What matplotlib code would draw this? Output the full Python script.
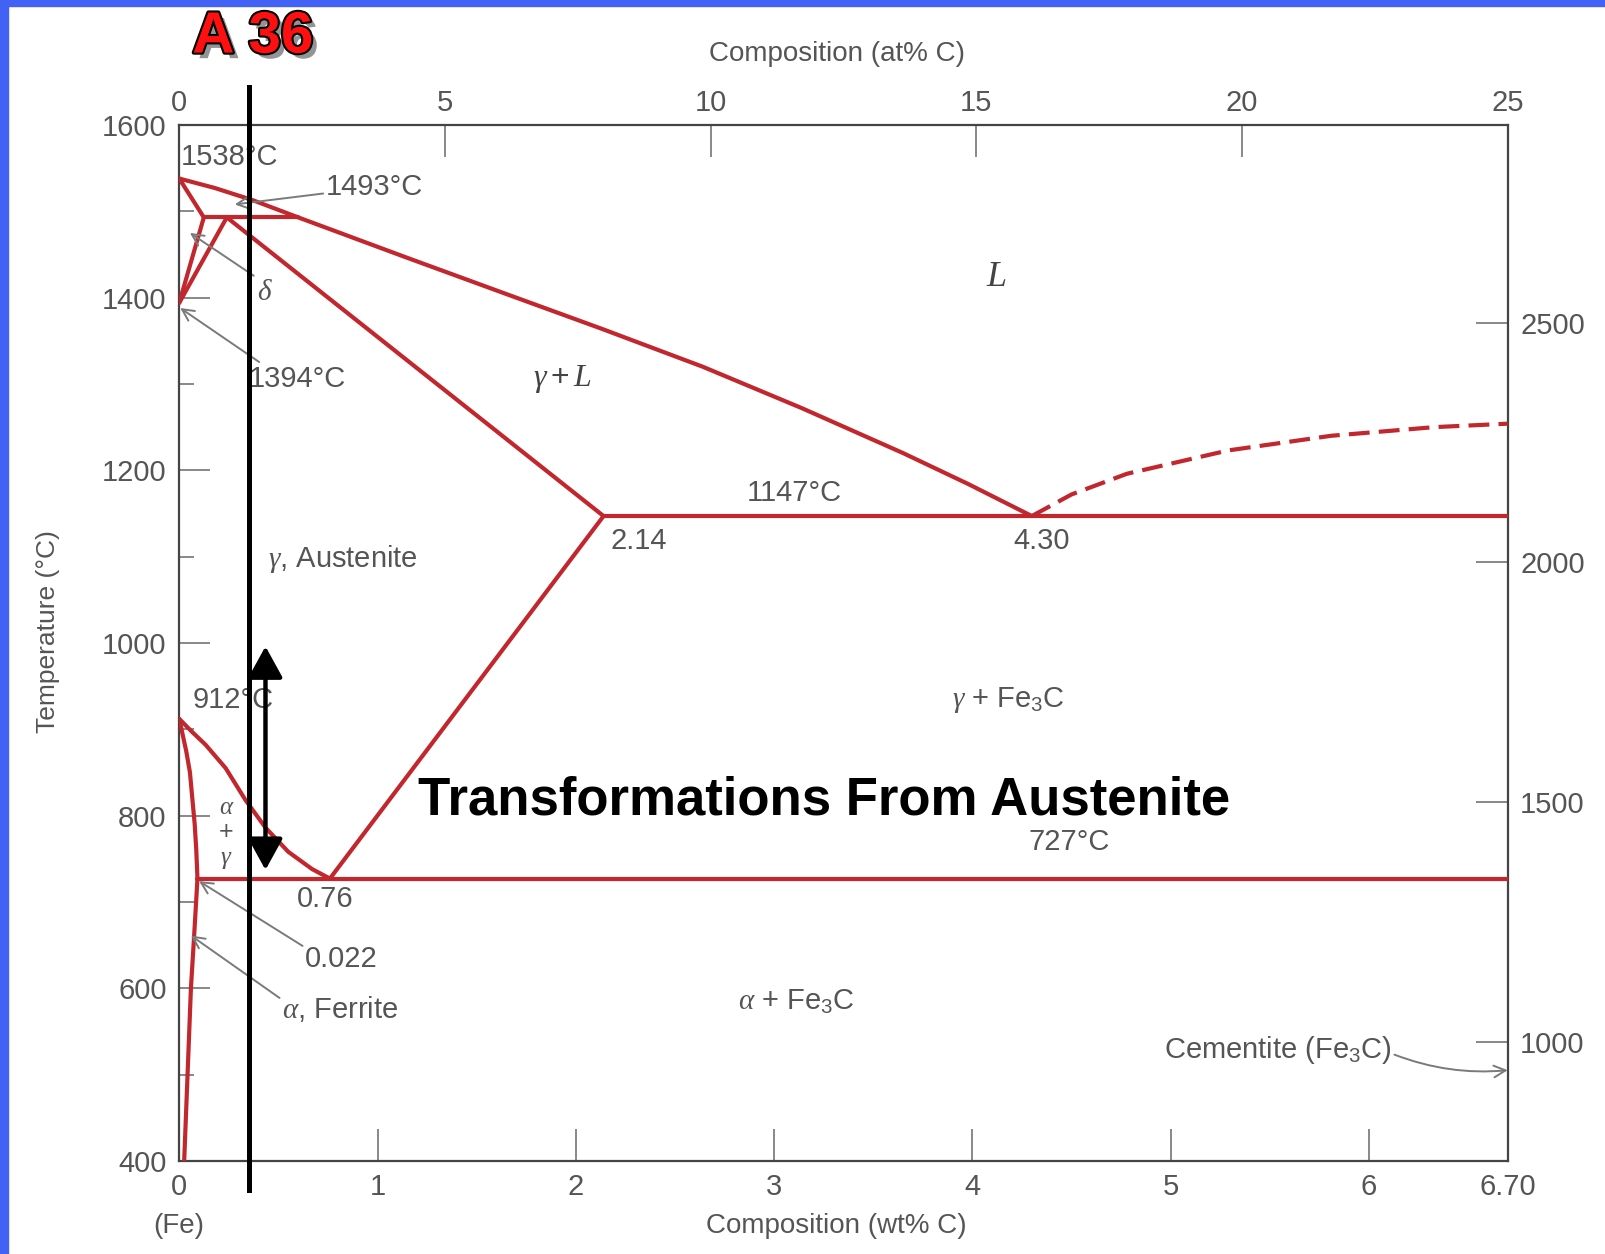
import matplotlib
matplotlib.use("Agg")
import matplotlib.pyplot as plt
import matplotlib.patheffects as pe
from matplotlib.patches import Rectangle

plt.rcParams['font.family'] = ['Liberation Sans', 'DejaVu Sans']
plt.rcParams['mathtext.fontset'] = 'custom'
plt.rcParams['mathtext.rm'] = 'Liberation Sans'
plt.rcParams['mathtext.it'] = 'Liberation Serif:italic'
plt.rcParams['mathtext.bf'] = 'Liberation Sans:bold'

# ---------------- data (wt% C, temperature °C) ----------------
liquidus_wt = [0.0, 0.18, 0.37, 0.60, 1.14, 1.64, 2.13, 2.64, 3.14, 3.65, 3.98, 4.30]
liquidus_T = [1538, 1527, 1513, 1493, 1447, 1405, 1364, 1320, 1272, 1220, 1184, 1147]
liq_dash_wt = [4.30, 4.50, 4.78, 5.29, 5.81, 6.33, 6.70]
liq_dash_T = [1147, 1172, 1196, 1223, 1240, 1250, 1254]
delta_sol_wt = [0.0, 0.124]
delta_sol_T = [1538, 1493]
peritectic_wt = [0.124, 0.60]
peritectic_T = [1493, 1493]
delta_low_wt = [0.124, 0.0]
delta_low_T = [1493, 1394]
gamma_up_wt = [0.24, 0.0]
gamma_up_T = [1493, 1394]
solidus_wt = [0.24, 2.14]
solidus_T = [1493, 1147]
eutectic_wt = [2.14, 6.70]
eutectic_T = [1147, 1147]
acm_wt = [2.14, 0.76]
acm_T = [1147, 727]
a3_wt = [0.0, 0.06, 0.133, 0.234, 0.334, 0.435, 0.55, 0.67, 0.76]
a3_T = [912, 898, 882, 855, 818, 786, 758, 738, 727]
ferrite_wt = [0.0, 0.035, 0.054, 0.066, 0.078, 0.086, 0.092]
ferrite_T = [912, 875, 850, 820, 790, 760, 727]
solvus_wt = [0.092, 0.075, 0.059, 0.042, 0.025]
solvus_T = [727, 660, 600, 500, 400]
eutectoid_wt = [0.092, 6.70]
eutectoid_T = [727, 727]

steel_wt = 0.352                 # A 36 composition line
steel_T_range = [1644, 366]
arrow_wt = 0.435                 # transformation range arrow
arrow_T_range = [996, 737]

wt_ticks = [0, 1, 2, 3, 4, 5, 6, 6.70]
wt_labels = ['0', '1', '2', '3', '4', '5', '6', '6.70']
at_ticks = [0, 5, 10, 15, 20, 25]
T_ticks = [400, 600, 800, 1000, 1200, 1400, 1600]
T_minor = [500, 700, 900, 1100, 1300, 1500]
F_ticks = [1000, 1500, 2000, 2500]

RED = '#c1272d'
GRAY = '#555555'
AGRAY = '#7a7a7a'

fig = plt.figure(figsize=(16.06, 12.54), dpi=100)
fig.patch.set_facecolor('white')
# blue frame strips
fig.patches.append(Rectangle((0, 0), 0.005, 1, transform=fig.transFigure, color='#4262f5', zorder=0))
fig.patches.append(Rectangle((0, 0.995), 1, 0.005, transform=fig.transFigure, color='#4262f5', zorder=0))

ax = fig.add_axes([0.1116, 0.0743, 0.8272, 0.8260])
ax.set_xlim(0, 6.70)
ax.set_ylim(400, 1600)
for s in ax.spines.values():
    s.set_color('#444444')
    s.set_linewidth(1.6)

lkw = dict(color=RED, lw=3.0, solid_capstyle='round', solid_joinstyle='round', zorder=3)
for xs, ys in [(liquidus_wt, liquidus_T), (delta_sol_wt, delta_sol_T), (peritectic_wt, peritectic_T),
               (delta_low_wt, delta_low_T), (gamma_up_wt, gamma_up_T), (solidus_wt, solidus_T),
               (eutectic_wt, eutectic_T), (acm_wt, acm_T), (a3_wt, a3_T), (ferrite_wt, ferrite_T),
               (solvus_wt, solvus_T), (eutectoid_wt, eutectoid_T)]:
    ax.plot(xs, ys, **lkw)
ax.plot(liq_dash_wt, liq_dash_T, color=RED, lw=3.0, ls=(0, (5, 2.2)), zorder=3)

# ticks
tkw = dict(direction='in', colors='#888888', labelcolor=GRAY, labelsize=21, width=1.4)
ax.set_xticks(wt_ticks)
ax.set_xticklabels(wt_labels)
ax.tick_params(axis='x', length=23, pad=9, **tkw)
ax.set_yticks(T_ticks)
ax.set_yticks(T_minor, minor=True)
ax.tick_params(axis='y', which='major', length=22, pad=9, **tkw)
ax.tick_params(axis='y', which='minor', length=11, direction='in', colors='#888888', width=1.4)

top = ax.secondary_xaxis('top', functions=(lambda w: w * 25 / 6.70, lambda a: a * 6.70 / 25))
top.set_xticks(at_ticks)
top.tick_params(length=23, pad=6, **tkw)
top.spines['top'].set_visible(False)

right = ax.secondary_yaxis('right', functions=(lambda c: c * 9 / 5 + 32, lambda f: (f - 32) * 5 / 9))
right.set_yticks(F_ticks)
right.tick_params(length=23, pad=9, **tkw)
right.spines['right'].set_visible(False)

fig.text(0.521, 0.957, 'Composition (at% C)', ha='center', va='center', fontsize=20, color=GRAY)
fig.text(0.521, 0.022, 'Composition (wt% C)', ha='center', va='center', fontsize=20, color=GRAY)
fig.text(0.030, 0.496, 'Temperature (°C)', rotation=90, ha='center', va='center', fontsize=19, color=GRAY)
ax.text(0.0, 324, '(Fe)', ha='center', va='center', fontsize=20, color=GRAY, clip_on=False)

# annotations
tk = dict(fontsize=21, color=GRAY, zorder=4)
ak = dict(arrowstyle='->', color=AGRAY, lw=1.4, shrinkA=0, shrinkB=0)
ax.text(0.01, 1563, '1538°C', ha='left', va='center', **tk)
ax.annotate('1493°C', xy=(0.28, 1508), xytext=(0.74, 1528), ha='left', va='center', arrowprops=ak, **tk)
ax.annotate(r'$\delta$', xy=(0.054, 1475), xytext=(0.43, 1407), ha='center', va='center',
            arrowprops=dict(ak, relpos=(0.0, 1.0)), **tk)
ax.annotate('1394°C', xy=(0.005, 1388), xytext=(0.35, 1306), ha='left', va='center',
            arrowprops=dict(ak, relpos=(0.15, 1.0)), **tk)
ax.text(0.067, 934, '912°C', ha='left', va='center', **tk)
ax.text(0.238, 810, r'$\alpha$', ha='center', va='center', fontsize=18, color=GRAY)
ax.text(0.238, 781, '+', ha='center', va='center', fontsize=18, color=GRAY)
ax.text(0.238, 750, r'$\gamma$', ha='center', va='center', fontsize=18, color=GRAY)
ax.text(0.737, 703, '0.76', ha='center', va='center', **tk)
ax.annotate('0.022', xy=(0.10, 724), xytext=(0.636, 634), ha='left', va='center',
            arrowprops=dict(ak, relpos=(0.0, 0.9)), **tk)
ax.annotate(r'$\alpha$, Ferrite', xy=(0.059, 661), xytext=(0.52, 576), ha='left', va='center',
            arrowprops=dict(ak, relpos=(0.0, 0.8)), **tk)
ax.text(0.45, 1097, r'$\gamma$, Austenite', ha='left', va='center', **tk)
ax.text(1.93, 1306, r'$\gamma + L$', ha='center', va='center', fontsize=23, color='#444444')
ax.text(4.12, 1424, r'$L$', ha='center', va='center', fontsize=26, color='#444444')
ax.text(3.10, 1174, '1147°C', ha='center', va='center', **tk)
ax.text(2.32, 1118, '2.14', ha='center', va='center', **tk)
ax.text(4.35, 1118, '4.30', ha='center', va='center', **tk)
ax.text(4.18, 934, r'$\gamma$ + Fe$_3$C', ha='center', va='center', **tk)
ax.text(4.49, 769, '727°C', ha='center', va='center', **tk)
ax.text(3.11, 584, r'$\alpha$ + Fe$_3$C', ha='center', va='center', **tk)
ax.annotate('Cementite (Fe$_3$C)', xy=(6.70, 505), xytext=(5.54, 528), ha='center', va='center',
            arrowprops=dict(ak, relpos=(1.0, 0.4), connectionstyle='arc3,rad=0.12'), **tk)

ax.text(3.25, 817, 'Transformations From Austenite', ha='center', va='center',
        fontsize=38, fontweight='bold', color='black', zorder=5)

# A 36 composition line and transformation arrow
ax.plot([steel_wt, steel_wt], steel_T_range, color='black', lw=3.6, clip_on=False, zorder=6)
ax.annotate('', xy=(arrow_wt, arrow_T_range[0]), xytext=(arrow_wt, arrow_T_range[1]),
            arrowprops=dict(arrowstyle='<|-|>,head_length=0.4,head_width=0.22', color='black',
                            lw=3.2, mutation_scale=48, shrinkA=0, shrinkB=0), zorder=6)

fig.text(0.1575, 0.970, 'A 36', ha='center', va='center', fontsize=42, fontweight='bold',
         family=['Liberation Sans Narrow', 'Liberation Sans', 'DejaVu Sans'], color='#ff1010',
         path_effects=[pe.SimplePatchShadow(offset=(4, -4), shadow_rgbFace='#888888', alpha=0.9),
                       pe.Stroke(linewidth=3, foreground='black'), pe.Normal()])

fig.savefig('out.png', dpi=100, facecolor='white')
